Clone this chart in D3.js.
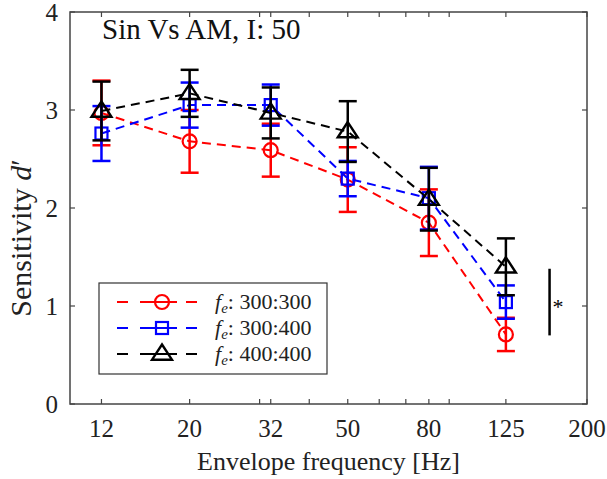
<!DOCTYPE html>
<html>
<head>
<meta charset="utf-8">
<script src="https://cdn.jsdelivr.net/npm/d3@7"></script>
<style>
  body { margin: 0; background: #fff; }
  text, tspan { font-family: "Liberation Serif", "Times New Roman", serif; fill: #222; }
</style>
</head>
<body>
<div id="wrapper"></div>
<script>
// envelope frequencies (Hz)
const freqs = [12, 20, 32, 50, 80, 125];
const xTickValues = [12, 20, 32, 50, 80, 125, 200];
const xMinorTicks = [30, 40, 60, 70, 90];
const yTickValues = [0, 1, 2, 3, 4];

// d' means and error bars, one pair per condition
const mean300300 = [2.97, 2.68, 2.59, 2.29, 1.85, 0.71];
const err300300  = [0.33, 0.32, 0.27, 0.33, 0.34, 0.17];
const mean300400 = [2.76, 3.05, 3.05, 2.30, 2.10, 1.04];
const err300400  = [0.28, 0.23, 0.21, 0.18, 0.32, 0.17];
const mean400400 = [2.99, 3.17, 2.97, 2.78, 2.09, 1.40];
const err400400  = [0.30, 0.24, 0.26, 0.31, 0.32, 0.29];

const seriesNames = ["300:300", "300:400", "400:400"];

// significance bar
const sigX = 161;
const sigRange = [0.70, 1.38];

function buildPlot() {
    const dimension = {
        width: 607,
        height: 479,
        margin: { top: 12, left: 70, bottom: 75, right: 20 }
    };
    dimension.boundedWidth = dimension.width - dimension.margin.left - dimension.margin.right;
    dimension.boundedHeight = dimension.height - dimension.margin.top - dimension.margin.bottom;

    const svg = d3.select("#wrapper").append("svg")
        .attr("width", dimension.width)
        .attr("height", dimension.height);

    const bounded = svg.append("g")
        .attr("transform", `translate(${dimension.margin.left},${dimension.margin.top})`);

    const xScaler = d3.scaleLog()
        .domain([10, 200])
        .range([0, dimension.boundedWidth]);
    const yScaler = d3.scaleLinear()
        .domain([0, 4])
        .range([dimension.boundedHeight, 0]);

    const axisColor = "#444";
    const tickLen = 5;

    // box
    bounded.append("rect")
        .attr("width", dimension.boundedWidth)
        .attr("height", dimension.boundedHeight)
        .attr("fill", "none")
        .attr("stroke", axisColor)
        .attr("stroke-width", 1.5);

    // x ticks, bottom and top (inward)
    const allX = xTickValues.concat(xMinorTicks);
    allX.forEach(v => {
        const x = xScaler(v);
        bounded.append("line").attr("x1", x).attr("x2", x)
            .attr("y1", dimension.boundedHeight).attr("y2", dimension.boundedHeight - tickLen)
            .attr("stroke", axisColor).attr("stroke-width", 1.2);
        bounded.append("line").attr("x1", x).attr("x2", x)
            .attr("y1", 0).attr("y2", tickLen)
            .attr("stroke", axisColor).attr("stroke-width", 1.2);
    });
    xTickValues.forEach(v => {
        bounded.append("text")
            .attr("x", xScaler(v))
            .attr("y", dimension.boundedHeight + 33)
            .attr("text-anchor", "middle")
            .style("font-size", "25px")
            .text(v);
    });

    // y ticks, left and right
    yTickValues.forEach(v => {
        const y = yScaler(v);
        bounded.append("line").attr("x1", 0).attr("x2", tickLen)
            .attr("y1", y).attr("y2", y)
            .attr("stroke", axisColor).attr("stroke-width", 1.2);
        bounded.append("line").attr("x1", dimension.boundedWidth).attr("x2", dimension.boundedWidth - tickLen)
            .attr("y1", y).attr("y2", y)
            .attr("stroke", axisColor).attr("stroke-width", 1.2);
        bounded.append("text")
            .attr("x", -12)
            .attr("y", y + 9)
            .attr("text-anchor", "end")
            .style("font-size", "25px")
            .text(v);
    });

    // axis labels
    svg.append("text")
        .attr("x", dimension.margin.left + dimension.boundedWidth / 2)
        .attr("y", 470)
        .attr("text-anchor", "middle")
        .style("font-size", "26px")
        .text("Envelope frequency [Hz]");

    const yLab = svg.append("text")
        .attr("transform", "translate(31,238) rotate(-90)")
        .attr("text-anchor", "middle")
        .style("font-size", "30px");
    yLab.append("tspan").text("Sensitivity ");
    yLab.append("tspan").style("font-style", "italic").text("d");
    yLab.append("tspan").text("\u2032");

    // title
    bounded.append("text")
        .attr("x", 32)
        .attr("y", 27)
        .style("font-size", "29px")
        .style("fill", "#111")
        .text("Sin Vs AM, I: 50");

    const series = [
        { name: seriesNames[0], mean: mean300300, err: err300300, color: "#ff0000", marker: "circle" },
        { name: seriesNames[1], mean: mean300400, err: err300400, color: "#0000ff", marker: "square" },
        { name: seriesNames[2], mean: mean400400, err: err400400, color: "#000000", marker: "triangle" }
    ];

    const lineGenerator = d3.line()
        .x(d => xScaler(d.f))
        .y(d => yScaler(d.m));

    function drawMarker(g, type, x, y, color) {
        if (type === "circle") {
            g.append("circle").attr("cx", x).attr("cy", y).attr("r", 7)
                .attr("fill", "none").attr("stroke", color).attr("stroke-width", 2.2);
        } else if (type === "square") {
            g.append("rect").attr("x", x - 6).attr("y", y - 6).attr("width", 12).attr("height", 12)
                .attr("fill", "none").attr("stroke", color).attr("stroke-width", 2.2);
        } else {
            const s = 9.5;
            g.append("path")
                .attr("d", `M${x},${y - s}L${x + s * 1.05},${y + s * 0.6}L${x - s * 1.05},${y + s * 0.6}Z`)
                .attr("fill", "none").attr("stroke", color).attr("stroke-width", 2.4);
        }
    }

    series.forEach(s => {
        const pts = freqs.map((f, i) => ({ f: f, m: s.mean[i], e: s.err[i] }));
        const g = bounded.append("g");
        g.append("path")
            .attr("d", lineGenerator(pts))
            .attr("fill", "none")
            .attr("stroke", s.color)
            .attr("stroke-width", 2)
            .attr("stroke-dasharray", "9,6");
        pts.forEach(p => {
            const x = xScaler(p.f);
            const yTop = yScaler(p.m + p.e), yBot = yScaler(p.m - p.e);
            g.append("line").attr("x1", x).attr("x2", x).attr("y1", yTop).attr("y2", yBot)
                .attr("stroke", s.color).attr("stroke-width", 2.5);
            [yTop, yBot].forEach(yy => {
                g.append("line").attr("x1", x - 9).attr("x2", x + 9).attr("y1", yy).attr("y2", yy)
                    .attr("stroke", s.color).attr("stroke-width", 2.5);
            });
            drawMarker(g, s.marker, x, yScaler(p.m), s.color);
        });
    });

    // significance bar
    bounded.append("line")
        .attr("x1", xScaler(sigX)).attr("x2", xScaler(sigX))
        .attr("y1", yScaler(sigRange[0])).attr("y2", yScaler(sigRange[1]))
        .attr("stroke", "#000").attr("stroke-width", 2.5);
    bounded.append("text")
        .attr("x", xScaler(sigX) + 3)
        .attr("y", yScaler((sigRange[0] + sigRange[1]) / 2) + 12)
        .style("font-size", "22px")
        .style("fill", "#000")
        .text("*");

    // legend
    const legend = bounded.append("g").attr("transform", "translate(29,271)");
    legend.append("rect")
        .attr("width", 228).attr("height", 91)
        .attr("fill", "#fff")
        .attr("stroke", "#333").attr("stroke-width", 1.2);
    series.forEach((s, i) => {
        const y = 19 + i * 26;
        legend.append("line")
            .attr("x1", 18).attr("x2", 100).attr("y1", y).attr("y2", y)
            .attr("stroke", s.color).attr("stroke-width", 2)
            .attr("stroke-dasharray", "11,12");
        legend.append("line")
            .attr("x1", 48).attr("x2", 78).attr("y1", y).attr("y2", y)
            .attr("stroke", s.color).attr("stroke-width", 2);
        drawMarker(legend, s.marker, 63, y, s.color);
        const t = legend.append("text")
            .attr("x", 116).attr("y", y + 7)
            .attr("font-family", "Liberation Serif")
            .style("font-size", "22px");
        t.append("tspan").style("font-style", "italic").text("f");
        t.append("tspan").style("font-style", "italic").style("font-size", "15px").attr("dy", 4).text("e");
        t.append("tspan").attr("dy", -4).text(": " + s.name);
    });
}

buildPlot();
</script>
</body>
</html>
